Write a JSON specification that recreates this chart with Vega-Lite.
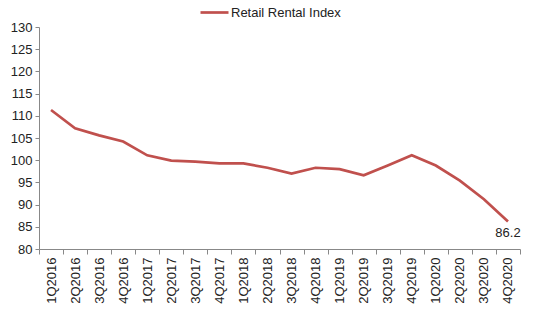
{
  "$schema": "https://vega.github.io/schema/vega-lite/v6.json",
  "width": 481,
  "height": 222,
  "autosize": "none",
  "padding": {"left": 39, "top": 27, "right": 30, "bottom": 64},
  "background": "white",
  "config": {
    "view": {"stroke": null},
    "font": "Liberation Sans"
  },
  "data": {
    "values": [
      {"quarter": "1Q2016", "value": 111.3, "series": "Retail Rental Index"},
      {"quarter": "2Q2016", "value": 107.2, "series": "Retail Rental Index"},
      {"quarter": "3Q2016", "value": 105.6, "series": "Retail Rental Index"},
      {"quarter": "4Q2016", "value": 104.2, "series": "Retail Rental Index"},
      {"quarter": "1Q2017", "value": 101.1, "series": "Retail Rental Index"},
      {"quarter": "2Q2017", "value": 99.9, "series": "Retail Rental Index"},
      {"quarter": "3Q2017", "value": 99.7, "series": "Retail Rental Index"},
      {"quarter": "4Q2017", "value": 99.3, "series": "Retail Rental Index"},
      {"quarter": "1Q2018", "value": 99.3, "series": "Retail Rental Index"},
      {"quarter": "2Q2018", "value": 98.3, "series": "Retail Rental Index"},
      {"quarter": "3Q2018", "value": 97.0, "series": "Retail Rental Index"},
      {"quarter": "4Q2018", "value": 98.3, "series": "Retail Rental Index"},
      {"quarter": "1Q2019", "value": 98.0, "series": "Retail Rental Index"},
      {"quarter": "2Q2019", "value": 96.6, "series": "Retail Rental Index"},
      {"quarter": "3Q2019", "value": 98.8, "series": "Retail Rental Index"},
      {"quarter": "4Q2019", "value": 101.1, "series": "Retail Rental Index"},
      {"quarter": "1Q2020", "value": 98.8, "series": "Retail Rental Index"},
      {"quarter": "2Q2020", "value": 95.4, "series": "Retail Rental Index"},
      {"quarter": "3Q2020", "value": 91.2, "series": "Retail Rental Index"},
      {"quarter": "4Q2020", "value": 86.2, "series": "Retail Rental Index"}
    ]
  },
  "encoding": {
    "x": {
      "field": "quarter",
      "type": "ordinal",
      "sort": null,
      "scale": {"type": "band", "paddingInner": 0, "paddingOuter": 0},
      "axis": {
        "title": null,
        "tickBand": "extent",
        "labelAngle": -90,
        "labelAlign": "right",
        "labelBaseline": "middle",
        "labelFontSize": 13,
        "labelColor": "#222222",
        "labelPadding": 3,
        "domainColor": "#888888",
        "tickColor": "#888888",
        "tickSize": 5,
        "grid": false
      }
    },
    "y": {
      "field": "value",
      "type": "quantitative",
      "scale": {"domain": [80, 130], "nice": false, "zero": false},
      "axis": {
        "title": null,
        "values": [80, 85, 90, 95, 100, 105, 110, 115, 120, 125, 130],
        "labelFontSize": 13,
        "labelColor": "#222222",
        "labelPadding": 3,
        "domainColor": "#888888",
        "tickColor": "#888888",
        "tickSize": 4,
        "grid": false
      }
    }
  },
  "layer": [
    {
      "mark": {"type": "line", "strokeWidth": 2.7},
      "encoding": {
        "color": {
          "field": "series",
          "type": "nominal",
          "scale": {"range": ["#C0504D"]},
          "legend": {
            "title": null,
            "orient": "none",
            "legendX": 160,
            "legendY": -30,
            "symbolType": "stroke",
            "symbolSize": 784,
            "symbolStrokeWidth": 2.7,
            "labelFontSize": 13,
            "labelColor": "#222222",
            "labelOffset": 1
          }
        }
      }
    },
    {
      "transform": [{"filter": "datum.quarter === '4Q2020'"}],
      "mark": {"type": "text", "dy": 12, "fontSize": 13, "color": "#222222", "baseline": "middle"},
      "encoding": {
        "text": {"field": "value", "type": "quantitative", "format": ".1f"}
      }
    }
  ]
}
